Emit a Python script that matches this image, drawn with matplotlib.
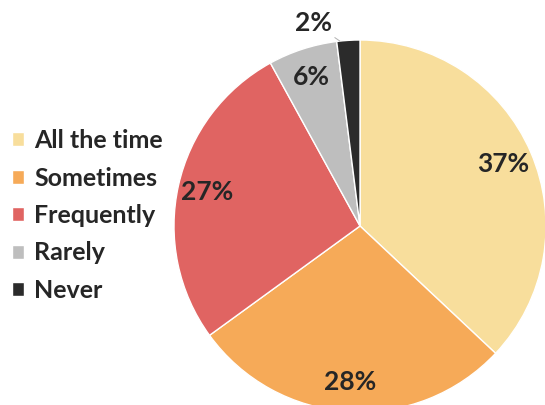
import numpy as np
import matplotlib.pyplot as plt

labels = ['All the time', 'Sometimes', 'Frequently', 'Rarely', 'Never']
shares = [37, 28, 27, 6, 2]
colors = ['#F8DE9C', '#F6AA58', '#E06462', '#BEBEBE', '#2B2B2B']


def main():
    plt.rcParams['font.family'] = ['Lato', 'DejaVu Sans']
    fig = plt.figure(figsize=(5.45, 4.05), dpi=100)
    ax = fig.add_axes([0, 0, 1, 1])

    # axes in pixel units, y pointing up
    wedges, texts, autotexts = ax.pie(
        shares, colors=colors, startangle=90, counterclock=False,
        center=(360, 179), radius=186, frame=True,
        autopct='%d%%', pctdistance=0.84,
        wedgeprops=dict(edgecolor='white', linewidth=1),
        textprops=dict(fontsize=19, fontweight='bold', color='#262626'))
    ax.set_xlim(0, 545)
    ax.set_ylim(0, 405)
    ax.set_aspect('equal')
    ax.axis('off')

    # smallest slice gets its label outside with a leader line
    w = wedges[-1]
    t = autotexts[-1]
    t.set_visible(False)
    ang = np.deg2rad(w.theta2 - 1)
    edge = (360 + 186 * np.cos(ang), 179 + 186 * np.sin(ang))
    ax.annotate(t.get_text(), xy=edge, xytext=(-19, 13), textcoords='offset points',
                fontsize=19, fontweight='bold', color='#262626', ha='center', va='center',
                arrowprops=dict(arrowstyle='-', color='#B0B0B0', lw=0.7,
                                shrinkA=9, shrinkB=0))

    ax.legend(wedges, labels, loc='upper left', bbox_to_anchor=(12 / 545, 1 - 129 / 405),
              frameon=False, prop=dict(family='Lato', weight='bold', size=18),
              labelcolor='#262626', handlelength=0.48, handleheight=0.48,
              handletextpad=0.42, labelspacing=0.58, borderpad=0, borderaxespad=0)

    plt.savefig('out.png', dpi=100)


if __name__ == '__main__':
    main()
